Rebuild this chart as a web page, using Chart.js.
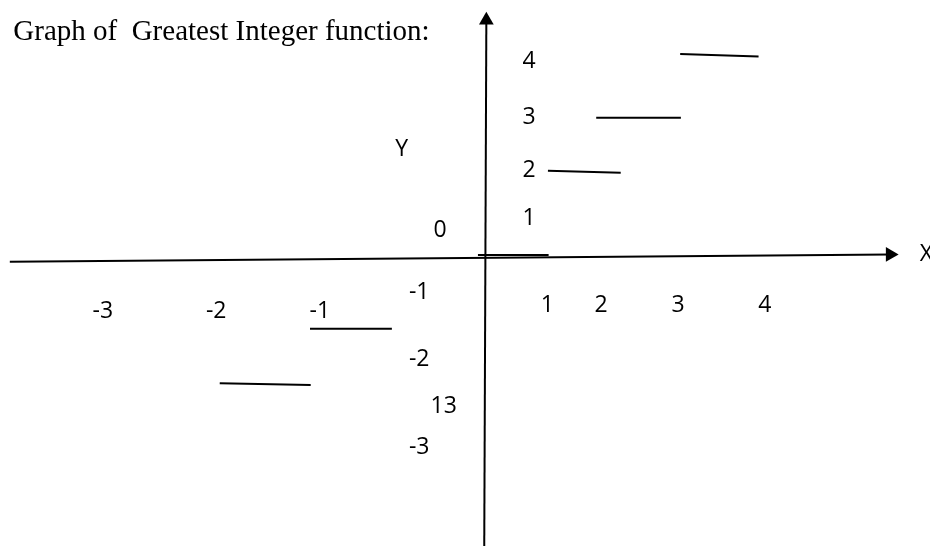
<!DOCTYPE html>
<html>
<head>
<meta charset="utf-8">
<title>Graph of Greatest Integer function</title>
<script src="https://cdn.jsdelivr.net/npm/chart.js@4/dist/chart.umd.min.js"></script>
<style>
    html, body { margin: 0; padding: 0; background: #fff; }
    #wrap { width: 930px; height: 546px; }
</style>
</head>
<body>
<div id="wrap"><canvas id="stepChart"></canvas></div>
<script>
// Step segments of y = [x], as drawn (chart units: x from the Y axis, y from the X axis)
var stepLevels = [0, 2, 3, 4, -1, -2];
var stepStartX = [-0.10, 0.90, 1.59, 2.79, -2.50, -3.79];
var stepEndX   = [0.91, 1.94, 2.80, 3.91, -1.33, -2.49];
var stepStartY = [0.06, 1.76, 2.83, 4.12, -1.43, -2.53];
var stepEndY   = [0.06, 1.72, 2.83, 4.07, -1.43, -2.57];

// Axis lines (tail -> arrow head)
var xAxisX = [-6.79, 5.79];
var xAxisY = [-0.08, 0.07];
var yAxisX = [-0.01, 0.02];
var yAxisY = [-5.82, 4.80];

// Hand-placed labels
var labelText = ['4', '3', '2', '1', '0', '-1', '-2', '13', '-3', 'Y', 'X',
                 '-3', '-2', '-1', '1', '2', '3', '4'];
var labelX = [0.63, 0.63, 0.63, 0.63, -0.64, -0.94, -0.94, -0.59, -0.94, -1.19, 6.31,
              -5.46, -3.84, -2.36, 0.89, 1.66, 2.76, 4.00];
var labelY = [3.99, 2.87, 1.79, 0.83, 0.59, -0.67, -2.02, -2.98, -3.79, 2.23, 0.09,
              -1.05, -1.05, -1.05, -0.94, -0.94, -0.94, -0.94];

var titleText = 'Graph of  Greatest Integer function:';
var titleX = -6.74;
var titleY = 4.40;

function axisDataset(xs, ys, rotation) {
    return {
        data: xs.map(function(x, i) { return { x: x, y: ys[i] }; }),
        showLine: true,
        borderColor: '#000',
        backgroundColor: '#000',
        borderWidth: 2,
        pointStyle: 'triangle',
        pointRadius: [0, 8.5],
        pointRotation: [0, rotation],
        pointBorderWidth: 0,
        clip: false
    };
}

var datasets = stepLevels.map(function(level, i) {
    return {
        label: 'y = ' + level,
        data: [{ x: stepStartX[i], y: stepStartY[i] }, { x: stepEndX[i], y: stepEndY[i] }],
        showLine: true,
        borderColor: '#000',
        borderWidth: 2,
        pointRadius: 0,
        clip: false
    };
});
datasets.push(axisDataset(xAxisX, xAxisY, 90));
datasets.push(axisDataset(yAxisX, yAxisY, 0));

var textLabels = {
    id: 'textLabels',
    afterDatasetsDraw: function(chart) {
        var ctx = chart.ctx;
        var xs = chart.scales.x;
        var ys = chart.scales.y;
        ctx.save();
        ctx.fillStyle = '#000';
        ctx.textBaseline = 'alphabetic';

        ctx.font = "23px 'Open Sans', sans-serif";
        ctx.textAlign = 'center';
        labelText.forEach(function(t, i) {
            ctx.fillText(t, xs.getPixelForValue(labelX[i]), ys.getPixelForValue(labelY[i]) + 8);
        });

        ctx.font = "29px 'Liberation Serif', 'Times New Roman', serif";
        ctx.textAlign = 'left';
        ctx.fillText(titleText, xs.getPixelForValue(titleX), ys.getPixelForValue(titleY));
        ctx.restore();
    }
};

new Chart(document.getElementById('stepChart'), {
    type: 'scatter',
    data: { datasets: datasets },
    options: {
        responsive: true,
        maintainAspectRatio: false,
        animation: false,
        events: [],
        layout: { padding: 0, autoPadding: false },
        plugins: {
            legend: { display: false },
            tooltip: { enabled: false }
        },
        scales: {
            x: { type: 'linear', display: false, min: -6.93, max: 6.36 },
            y: { type: 'linear', display: false, min: -5.82, max: 5.21 }
        }
    },
    plugins: [textLabels]
});
</script>
</body>
</html>
